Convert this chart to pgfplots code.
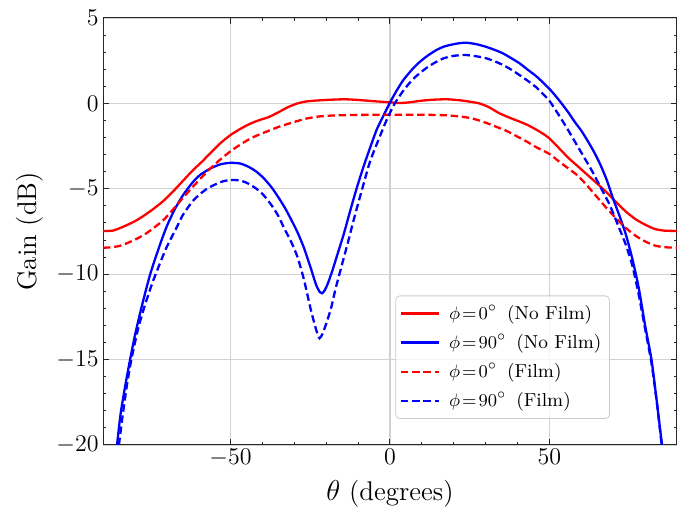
\documentclass[border=0pt]{standalone}
\usepackage{pgfplots}
\pgfplotsset{compat=1.18}
\begin{document}
\begin{tikzpicture}
\begin{axis}[
  width=287pt, height=213.5pt, scale only axis,
  xmin=-90, xmax=90, ymin=-20, ymax=5,
  xtick={-50,0,50}, ytick={-20,-15,-10,-5,0,5},
  minor x tick num=4, minor y tick num=4,
  tick align=inside, tick pos=both,
  major tick length=3pt, minor tick length=1.6pt,
  grid=major, major grid style={black!18, line width=0.6pt},
  axis line style={black!85, line width=0.5pt},
  every tick/.style={black!85, line width=0.5pt},
  tick label style={font=\fontsize{11.5}{13}\selectfont},
  xticklabel style={inner sep=2pt},
  yticklabel style={inner sep=2pt},
  label style={font=\fontsize{13.5}{16}\selectfont},
  xlabel={$\theta$ (degrees)}, ylabel={Gain (dB)},
  xlabel style={at={([yshift=-24.5pt]rel axis cs:0.5,0)}, anchor=center},
  ylabel style={at={([xshift=-36.5pt]rel axis cs:0,0.5)}, anchor=center},
  legend cell align=left,
  legend style={at={(rel axis cs:0.883,0.061)}, anchor=south east,
    font=\fontsize{9.4}{11.5}\selectfont, draw=black!20, rounded corners=2pt,
    fill=white, fill opacity=0.8, text opacity=1, row sep=2pt,
    inner xsep=2pt, inner ysep=2.5pt},
  legend image code/.code={\draw[#1] (0pt,0pt) -- (19pt,0pt); \path (21.5pt,0pt);},
  every axis plot/.append style={line width=1.15pt, smooth, tension=0.4},
  clip=true,
]
\coordinate (ll) at (rel axis cs:0,0);
\coordinate (ur) at (rel axis cs:1,1);
% phi = 0, no film
\addplot[red] coordinates {
(-90,-7.47) (-87,-7.45) (-84,-7.25) (-80,-6.9) (-77,-6.55) (-74,-6.15) (-71,-5.7) (-68,-5.15) (-65,-4.55) (-62,-3.95) (-59,-3.42) (-56,-2.85) (-53,-2.3) (-50,-1.85) (-47,-1.5) (-44,-1.2) (-41,-0.98) (-38,-0.8) (-35,-0.52) (-32,-0.22) (-29,0.0) (-26,0.12) (-22,0.18) (-18,0.22) (-14,0.24) (-10,0.2) (-6,0.14) (-3,0.1) (0,0.06) (3,0.02) (6,0.06) (10,0.16) (14,0.22) (18,0.24) (22,0.18) (25,0.1) (28,0.0) (31,-0.22) (34,-0.55) (37,-0.8) (40,-1.02) (43,-1.25) (46,-1.55) (48,-1.78) (50,-2.05) (53,-2.62) (56,-3.2) (59,-3.7) (62,-4.2) (65,-4.7) (68,-5.22) (71,-5.8) (74,-6.34) (77,-6.78) (80,-7.1) (83,-7.35) (86,-7.45) (90,-7.47)
};
\addlegendentry{$\phi\!=\!0^\circ$\hspace{5pt}(No Film)}
% phi = 90, no film
\addplot[blue] coordinates {
(-85.6,-20) (-84.5,-18.2) (-83,-16.5) (-81.5,-15.0) (-80,-13.6) (-78,-12.0) (-75.2,-10.0) (-72,-8.2) (-70,-7.2) (-67.5,-6.2) (-65,-5.4) (-62,-4.65) (-59.5,-4.18) (-56,-3.78) (-53,-3.56) (-50,-3.48) (-47,-3.52) (-44.5,-3.7) (-42,-3.98) (-39.5,-4.4) (-37,-4.95) (-35,-5.5) (-33,-6.1) (-31,-6.8) (-29,-7.55) (-27,-8.45) (-25,-9.55) (-24,-10.15) (-23,-10.7) (-22,-11.05) (-21.3,-11.12) (-20.5,-10.95) (-19.5,-10.55) (-18,-9.75) (-16.5,-8.85) (-14.5,-7.65) (-12.5,-6.3) (-10.5,-5.0) (-8.3,-3.7) (-6.25,-2.6) (-4.2,-1.55) (-2,-0.7) (0,0.05) (2,0.72) (4.2,1.37) (7,2.0) (9.4,2.44) (12,2.82) (14.6,3.13) (17,3.33) (19.8,3.46) (22,3.53) (24,3.55) (27,3.47) (30,3.32) (33,3.12) (35.4,2.93) (38,2.65) (40.6,2.35) (43,2.0) (45.8,1.6) (48,1.22) (50,0.85) (52,0.42) (54,-0.05) (56,-0.55) (58,-1.1) (60,-1.6) (62,-2.2) (64,-2.85) (66,-3.6) (68,-4.5) (70,-5.6) (72,-6.6) (74,-7.7) (76,-9.1) (78,-10.8) (80,-13.0) (82,-15.0) (83.5,-17.2) (85.3,-20)
};
\addlegendentry{$\phi\!=\!90^\circ$\hspace{5pt}(No Film)}
% phi = 0, film
\addplot[red, dash pattern=on 3.7pt off 1.9pt] coordinates {
(-90,-8.45) (-87,-8.42) (-84,-8.3) (-80,-7.98) (-77,-7.68) (-74,-7.28) (-71,-6.82) (-68,-6.2) (-65,-5.55) (-62,-4.92) (-59,-4.32) (-56,-3.75) (-53,-3.25) (-50,-2.8) (-47,-2.42) (-44,-2.08) (-41,-1.82) (-38,-1.6) (-35,-1.38) (-32,-1.2) (-29,-1.03) (-26,-0.88) (-22,-0.76) (-18,-0.71) (-12,-0.68) (0,-0.66) (12,-0.67) (18,-0.7) (22,-0.77) (25,-0.85) (28,-1.0) (31,-1.2) (34,-1.42) (37,-1.65) (40,-1.95) (43,-2.25) (46,-2.58) (50,-2.96) (53,-3.4) (56,-3.82) (59,-4.25) (62,-4.85) (65,-5.5) (68,-6.15) (71,-6.75) (74,-7.3) (77,-7.75) (80,-8.08) (83,-8.32) (86,-8.42) (90,-8.45)
};
\addlegendentry{$\phi\!=\!0^\circ$\hspace{5pt}(Film)}
% phi = 90, film
\addplot[blue, dash pattern=on 3.7pt off 1.9pt] coordinates {
(-85,-20) (-84,-18.5) (-82.5,-16.5) (-81,-14.9) (-79,-13.2) (-77,-11.9) (-74.5,-10.5) (-72,-9.3) (-70,-8.4) (-67,-7.3) (-65,-6.55) (-62,-5.75) (-59.5,-5.3) (-57,-4.95) (-53,-4.6) (-50,-4.48) (-47,-4.52) (-44.8,-4.66) (-42,-4.98) (-39.6,-5.38) (-37,-6.0) (-35,-6.6) (-33,-7.38) (-31,-8.1) (-29,-9.0) (-27,-10.3) (-25,-11.95) (-24,-12.68) (-23,-13.35) (-22.1,-13.75) (-21.2,-13.5) (-20,-12.9) (-18.5,-12.0) (-17,-10.8) (-15,-9.4) (-13,-8.0) (-11.5,-6.9) (-9,-5.2) (-6.25,-3.4) (-3.1,-1.9) (-1,-0.95) (1.5,0.0) (4.2,0.75) (7,1.38) (9.4,1.78) (12,2.15) (14.6,2.44) (17,2.65) (19.8,2.78) (22,2.82) (24,2.83) (27,2.76) (30.2,2.64) (33,2.45) (35.4,2.25) (38,1.98) (40.6,1.66) (43,1.35) (45.8,0.95) (48,0.55) (50,0.15) (53,-0.7) (55.5,-1.45) (58.3,-2.34) (61,-3.2) (63.5,-4.0) (66,-4.9) (68.8,-5.9) (71,-6.9) (74,-8.3) (76,-9.5) (78,-11.2) (80,-13.2) (82,-15.2) (83.6,-17.4) (85.2,-20)
};
\addlegendentry{$\phi\!=\!90^\circ$\hspace{5pt}(Film)}
\end{axis}
\pgfresetboundingbox
\path[use as bounding box] ([xshift=-51.5pt,yshift=-32.5pt]ll) rectangle ([yshift=9pt]ur);
\end{tikzpicture}
\end{document}
